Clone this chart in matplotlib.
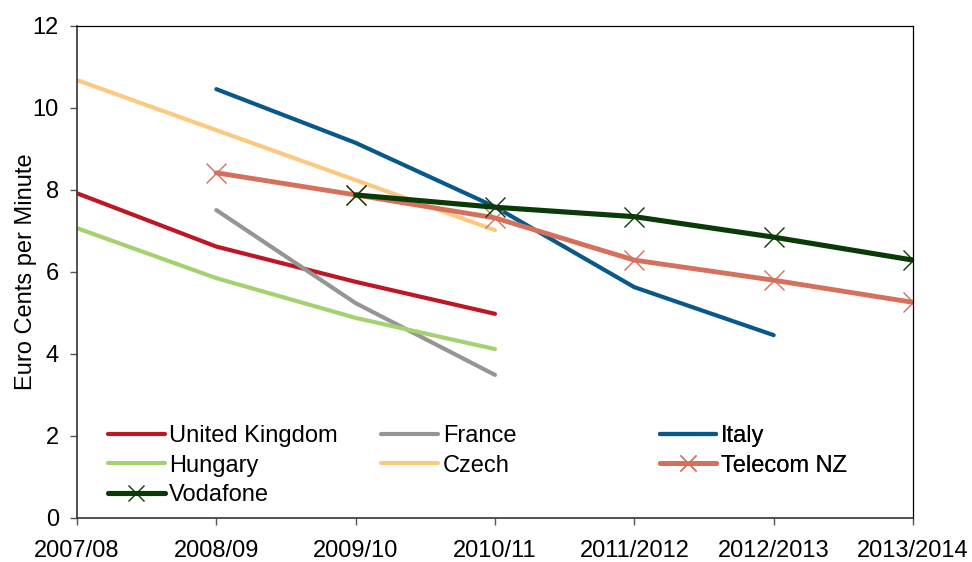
import numpy as np
import matplotlib
matplotlib.use("Agg")
import matplotlib.pyplot as plt

plt.rcParams['font.family'] = ['Liberation Sans', 'DejaVu Sans']

# Financial years on the category axis
years = ["2007/08", "2008/09", "2009/10", "2010/11", "2011/2012", "2012/2013", "2013/2014"]

# Mobile termination rates, euro cents per minute (None = no figure for that year)
united_kingdom = [7.92, 6.62, 5.76, 4.98, None, None, None]
france = [None, 7.51, 5.24, 3.49, None, None, None]
italy = [None, 10.46, 9.15, 7.59, 5.63, 4.46, None]
hungary = [7.07, 5.85, 4.88, 4.12, None, None, None]
czech = [10.68, 9.46, 8.24, 7.02, None, None, None]
telecom_nz = [None, 8.42, 7.88, 7.32, 6.29, 5.80, 5.26]
vodafone = [None, None, 7.88, 7.58, 7.35, 6.85, 6.29]

series = [
    ("United Kingdom", united_kingdom, "#BE1622", None, 3.0),
    ("France", france, "#959595", None, 3.0),
    ("Italy", italy, "#08598A", None, 3.0),
    ("Hungary", hungary, "#A5D16F", None, 3.0),
    ("Czech", czech, "#FDC981", None, 3.0),
    ("Telecom NZ", telecom_nz, "#D4705C", "x", 3.5),
    ("Vodafone", vodafone, "#0A3A08", "x", 3.7),
]

fig = plt.figure(figsize=(9.72, 5.62), dpi=100)
ax = fig.add_axes([77 / 972, 1 - 518 / 562, 836 / 972, (518 - 26) / 562])

x = np.arange(len(years))
handles = {}
for name, vals, color, marker, lw in series:
    y = np.array([np.nan if v is None else v for v in vals], dtype=float)
    (ln,) = ax.plot(x, y, color=color, lw=lw, marker=marker, markersize=15,
                    markeredgewidth=1.0, solid_capstyle="round",
                    solid_joinstyle="round", label=name)
    handles[name] = ln

ax.set_xlim(0, len(years) - 1)
ax.set_ylim(0, 12)
ax.set_xticks(x)
ax.set_xticklabels(years)
ax.set_yticks(np.arange(0, 13, 2))
ax.tick_params(axis="both", labelsize=17, direction="out", length=5,
               width=1.0, color="#555555")
ax.tick_params(axis="x", pad=11)
ax.tick_params(axis="y", pad=8)
ax.set_ylabel("Euro Cents per Minute", fontsize=17, labelpad=-3)

for side in ["left", "bottom"]:
    ax.spines[side].set_linewidth(1.2)
    ax.spines[side].set_color("#333333")
for side in ["top", "right"]:
    ax.spines[side].set_linewidth(0.9)
    ax.spines[side].set_color("#000000")

# Legend laid out row by row in three fixed columns
columns = [
    (["United Kingdom", "Hungary", "Vodafone"], 0.037),
    (["France", "Czech"], 0.364),
    (["Italy", "Telecom NZ"], 0.697),
]
top = 0.189
for names, xpos in columns:
    leg = ax.legend([handles[n] for n in names], names, loc="upper left",
                    bbox_to_anchor=(xpos, top), frameon=False, fontsize=17,
                    borderpad=0, borderaxespad=0, handlelength=2.4,
                    handletextpad=0.2, labelspacing=0.32, markerscale=0.8)
    ax.add_artist(leg)

fig.savefig("out.png", dpi=100)
